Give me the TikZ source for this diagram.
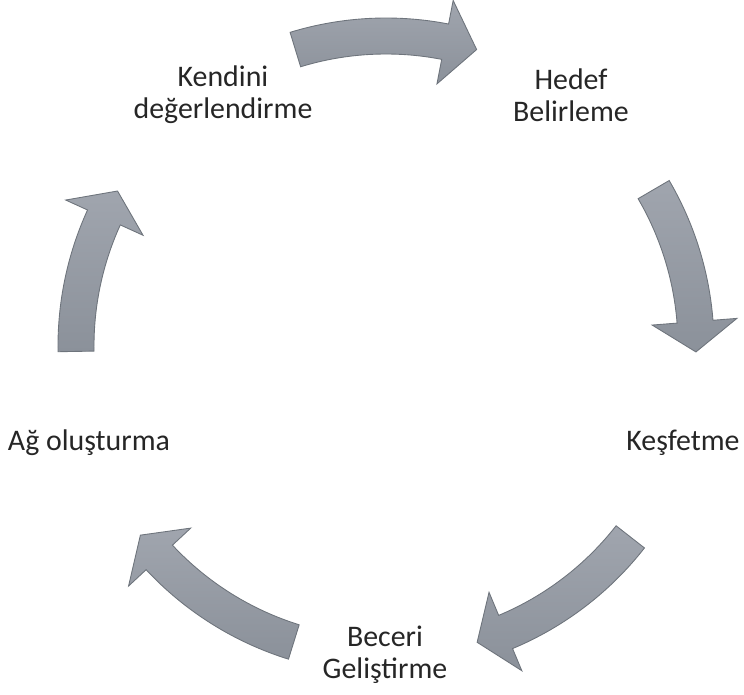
\documentclass[tikz,border=0pt]{standalone}
\usepackage{fontspec}
\setmainfont{Carlito}
\usepackage{tikz}

\definecolor{arrowtop}{HTML}{A0A5AE}
\definecolor{arrowbot}{HTML}{8B919A}
\definecolor{arrowedge}{HTML}{6E747C}

\tikzset{
  arrowbody/.style={draw=arrowedge, line width=0.5pt, top color=arrowtop, bottom color=arrowbot},
  cyclelabel/.style={align=center, text=black!85, font=\fontsize{17}{18.3}\selectfont}
}

% tail angle, head base angle, tip angle
\newcommand{\cyclearrow}[3]{%
  \path[arrowbody] (#1:328) arc[start angle=#1, end angle=#2, radius=328]
    -- (#2:352) -- (#3:310) -- (#2:267) -- (#2:292)
    arc[start angle=#2, end angle=#1, radius=292] -- cycle;}

\begin{document}
\begin{tikzpicture}[x=0.02cm, y=0.02cm]
  \useasboundingbox (-386,-348) rectangle (358,346);

  \node[cyclelabel] (kendini) at (-163,251) {Kendini\\değerlendirme};
  \node[cyclelabel] (hedef) at (185,251) {Hedef\\Belirleme};
  \node[cyclelabel] (kesfet) at (297,-97) {Keşfetme};
  \node[cyclelabel] (beceri) at (-1,-309) {Beceri\\Geliştirme};
  \node[cyclelabel] (ag) at (-297,-97) {Ağ oluşturma};

  \cyclearrow{107}{79}{73}
  \cyclearrow{30.3}{4.5}{-1.1}
  \cyclearrow{-38}{-67.3}{-72.9}
  \cyclearrow{252.7}{223}{217.6}
  \cyclearrow{181}{155.5}{150}
\end{tikzpicture}
\end{document}
